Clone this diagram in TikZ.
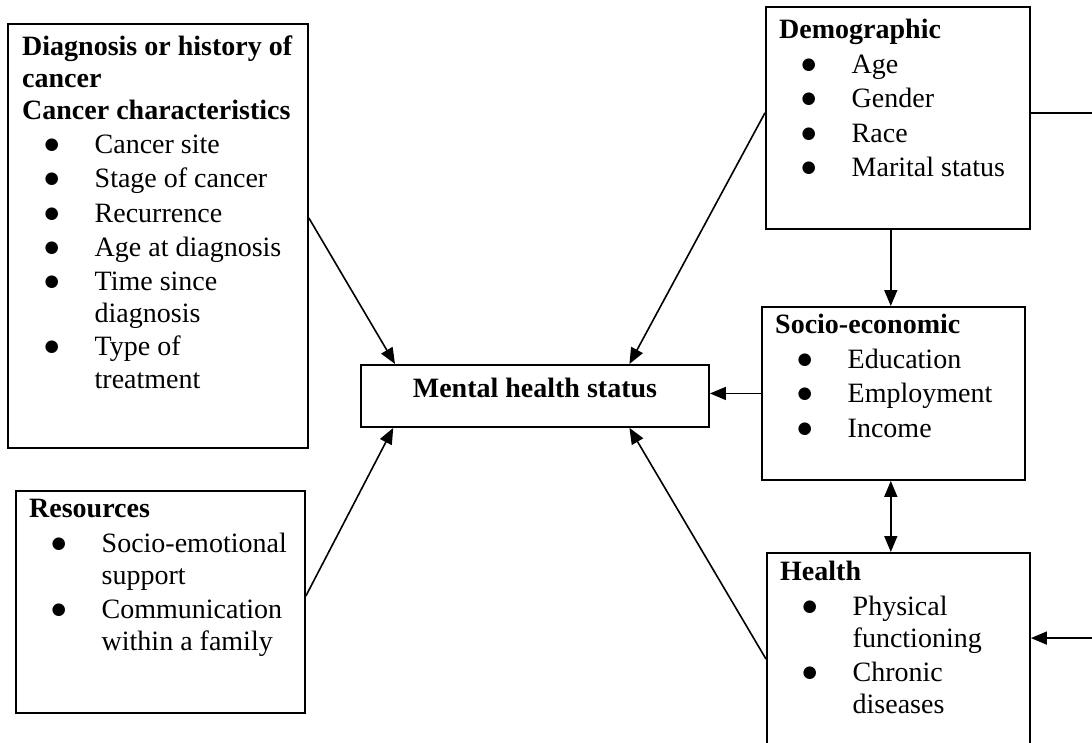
\documentclass[tikz,border=0pt]{standalone}
\usepackage{fontspec}
\setmainfont{Liberation Serif}
\newfontfamily\symfont{DejaVu Sans}
\usetikzlibrary{arrows.meta,calc}
\newcommand\bulletmark{\raisebox{4pt}{\symfont\fontsize{16.5}{16.5}\selectfont ●}}
\newcommand\itm[1]{\hspace*{29.5pt}\makebox[0pt][c]{\bulletmark}\hspace*{43pt}#1}
\newcommand\cnt[1]{\hspace*{72.5pt}#1}
\newcommand\tstrut{\rule{0pt}{24pt}}
\begin{document}
\begin{tikzpicture}[x=1pt,y=-1pt,
  box/.style={draw, line width=1.9pt, inner sep=0pt, anchor=north west},
  txt/.style={anchor=north west, inner sep=0pt, align=left, font=\fontsize{28}{32}\selectfont},
  tip/.tip={Triangle[length=16pt,width=13pt]},
  arr/.style={line width=1.6pt, -tip},
  darr/.style={line width=1.6pt, tip-tip}]
\useasboundingbox (0,0) rectangle (1092,742);
% boxes
\node[box, minimum width=300pt, minimum height=424pt] (diag) at (7,23) {};
\node[box, minimum width=348pt, minimum height=62pt] (mental) at (360,364) {};
\node[box, minimum width=289pt, minimum height=222pt] (res) at (15,490) {};
\node[box, minimum width=264pt, minimum height=222pt] (demo) at (765,6) {};
\node[box, minimum width=263pt, minimum height=173pt] (socio) at (761,306) {};
\node[box, minimum width=263pt, minimum height=208pt] (health) at (766,552) {};
% texts
\node[txt] (diagtext) at (22,31) {\tstrut\textbf{Diagnosis or history of}\\
  \textbf{cancer}\\
  \textbf{Cancer characteristics}\\[2pt]
  \itm{Cancer site}\\[2.5pt]
  \itm{Stage of cancer}\\[2.5pt]
  \itm{Recurrence}\\[2.5pt]
  \itm{Age at diagnosis}\\[2pt]
  \itm{Time since}\\
  \cnt{diagnosis}\\[1pt]
  \itm{Type of}\\[1pt]
  \cnt{treatment}};
\node[anchor=base, inner sep=0pt, font=\bfseries\fontsize{28}{32}\selectfont] (mentaltext) at ($(mental.center)+(0,2)$) {Mental health status};
\node[txt] (demotext) at (779,14) {\tstrut\textbf{Demographic}\\[3pt]
  \itm{Age}\\[2.5pt]
  \itm{Gender}\\[2.5pt]
  \itm{Race}\\[2pt]
  \itm{Marital status}};
\node[txt] (sociotext) at (775,309) {\tstrut\textbf{Socio-economic}\\[3pt]
  \itm{Education}\\[2.5pt]
  \itm{Employment}\\[2.5pt]
  \itm{Income}};
\node[txt] (healthtext) at (780,556) {\tstrut\textbf{Health}\\[3pt]
  \itm{Physical}\\
  \cnt{functioning}\\[2pt]
  \itm{Chronic}\\
  \cnt{diseases}};
\node[txt] (restext) at (29,493) {\tstrut\textbf{Resources}\\[3pt]
  \itm{Socio-emotional}\\
  \cnt{support}\\[2pt]
  \itm{Communication}\\
  \cnt{within a family}};
% connector points
\coordinate (a1) at ($(diag.north east)!0.458!(diag.south east)$);
\coordinate (a1e) at ($(mental.north west)!0.10!(mental.north east)$);
\coordinate (a2) at ($(demo.north west)!0.477!(demo.south west)$);
\coordinate (a2e) at ($(mental.north west)!0.77!(mental.north east)$);
\coordinate (a3) at ($(health.north west)!0.51!(health.south west)$);
\coordinate (a3e) at ($(mental.south west)!0.77!(mental.south east)$);
\coordinate (a4) at ($(res.north east)!0.473!(res.south east)$);
\coordinate (a4e) at ($(mental.south west)!0.095!(mental.south east)$);
\coordinate (ds) at ($(demo.south west)!0.473!(demo.south east)$);
\coordinate (ss) at ($(socio.south west)!0.49!(socio.south east)$);
\coordinate (de) at ($(demo.north east)!0.477!(demo.south east)$);
\coordinate (he) at ($(health.north east)!0.41!(health.south east)$);
\coordinate (rc) at (1094,0);
% connectors
\draw[arr] (a1) -- (a1e);
\draw[arr] (a2) -- (a2e);
\draw[arr] (a3) -- (a3e);
\draw[arr] (a4) -- (a4e);
\draw[arr] (socio.west) -- (socio.west -| mental.east);
\draw[arr] (ds) -- (ds |- socio.north);
\draw[darr] (ss) -- (ss |- health.north);
\draw[arr] (de) -- (de -| rc) -- (he -| rc) -- (he);
\end{tikzpicture}
\end{document}
